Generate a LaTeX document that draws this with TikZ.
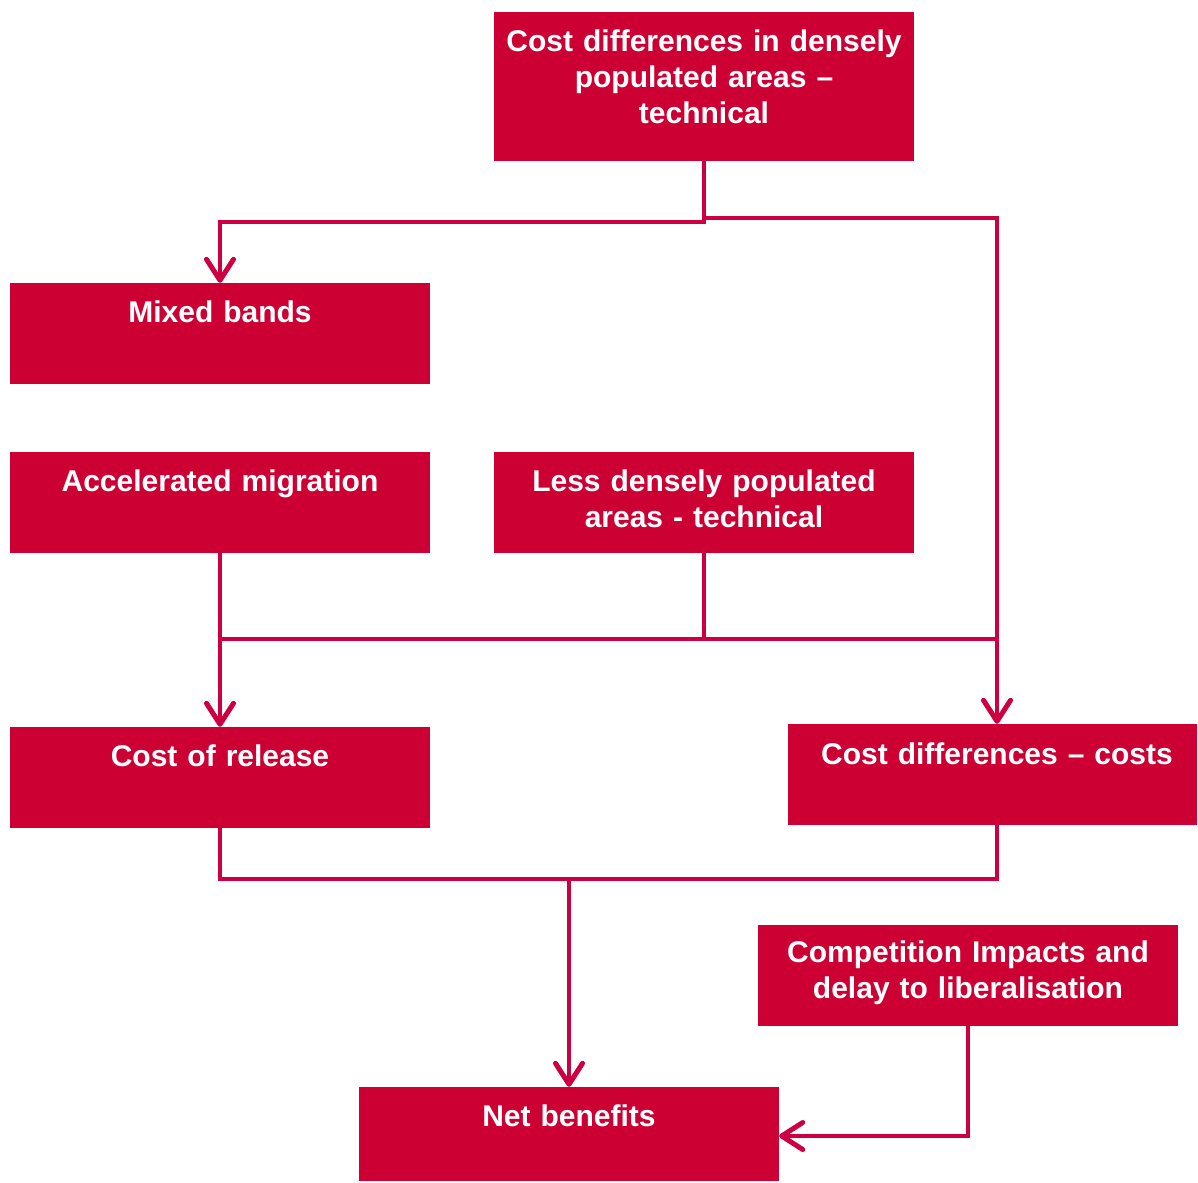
\documentclass[tikz,border=0pt]{standalone}
\usepackage{fontspec}
\setmainfont{Liberation Sans}
\usetikzlibrary{arrows.meta,calc}
\definecolor{boxred}{RGB}{204,0,51}
\definecolor{linered}{RGB}{204,0,64}
\tikzset{
  box/.style={fill=boxred, draw=none, inner sep=0pt, minimum width=420pt},
  lbl/.style={text=white, font=\fontsize{30}{36}\selectfont\bfseries,
              text width=440pt, align=center, inner sep=0pt, anchor=base},
  wire/.style={draw=linered, line width=4pt},
  arr/.style={wire, -{Straight Barb[length=21pt,width=27pt,line width=5pt,round]}},
}
\begin{document}
\begin{tikzpicture}[x=1pt,y=-1pt]
\useasboundingbox (0,0) rectangle (1198,1182);

% boxes
\node[box, minimum height=149pt] (top)     at (704,86.5)   {};
\node[box, minimum height=101pt] (mixed)   at (220,333.5)  {};
\node[box, minimum height=101pt] (accel)   at (220,502.5)  {};
\node[box, minimum height=101pt] (less)    at (704,502.5)  {};
\node[box, minimum height=101pt] (release) at (220,777.5)  {};
\node[box, minimum height=101pt, minimum width=409pt] (costs) at (992.5,774.5) {};
\node[box, minimum height=101pt] (comp)    at (968,975.5)  {};
\node[box, minimum height=94pt]  (net)     at (569,1134)   {};

% labels, first baseline 40pt below the top edge
\node[lbl] (topT)     at ($(top.north)+(0,40)$)     {Cost differences in densely\\populated areas --\\technical};
\node[lbl] (mixedT)   at ($(mixed.north)+(0,40)$)   {Mixed bands};
\node[lbl] (accelT)   at ($(accel.north)+(0,40)$)   {Accelerated migration};
\node[lbl] (lessT)    at ($(less.north)+(0,40)$)    {Less densely populated\\areas - technical};
\node[lbl] (releaseT) at ($(release.north)+(0,40)$) {Cost of release};
\node[lbl] (costsT)   at (997,764)                  {Cost differences -- costs};
\node[lbl] (compT)    at ($(comp.north)+(0,38)$)    {Competition Impacts and\\delay to liberalisation};
\node[lbl] (netT)     at ($(net.north)+(0,40)$)     {Net benefits};

% junction points
\coordinate (j1) at (704,222);
\coordinate (j2) at (704,218);
\coordinate (rx) at (997,218);
\coordinate (mj) at (704,639);
\coordinate (bj) at (569,879);

% connectors
\draw[arr]  (top.south) -- (j1) -| (mixed.north);
\draw[arr]  (j2) -- (rx) -- (rx |- costs.north);
\draw[wire] (less.south) -- (mj);
\draw[wire] (mj) -- (mj -| accel.south);
\draw[wire] (mj) -- (mj -| rx);
\draw[arr]  (accel.south) -- (release.north);
\draw[wire] (release.south) |- (rx |- bj) -- (rx |- costs.south);
\draw[arr]  (bj) -- (net.north);
\draw[arr]  (comp.south) |- ([yshift=-2pt]net.east);
\end{tikzpicture}
\end{document}
